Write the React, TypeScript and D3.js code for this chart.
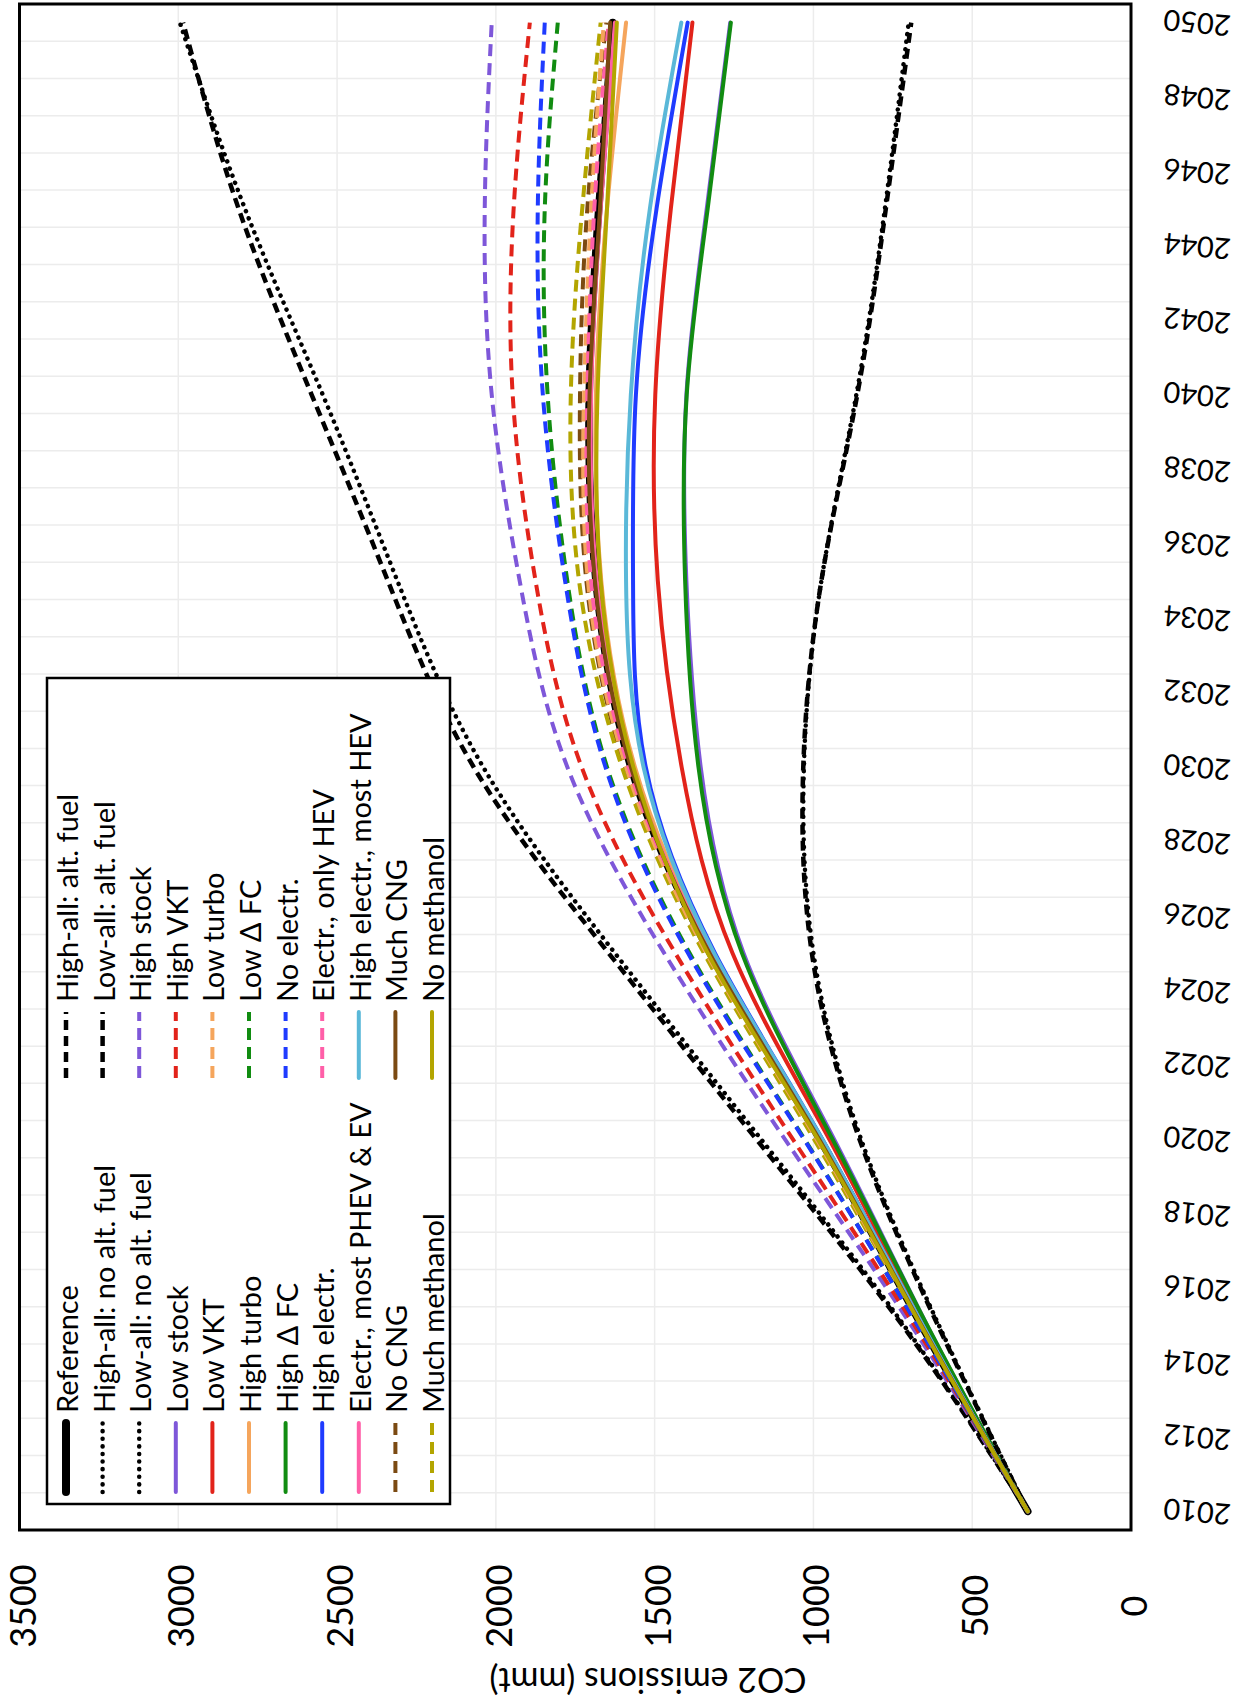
import React from 'react';
import * as d3 from 'd3';

// ---------- data ----------
const years = [2010, 2015, 2020, 2025, 2030, 2035, 2040, 2045, 2050];
const yearTicks = d3.range(2010, 2051, 2);
const valueTicks = [0, 500, 1000, 1500, 2000, 2500, 3000, 3500];

const reference = [325, 660, 980, 1325, 1575, 1685, 1706, 1676, 1632];
const highAllNoAlt = [325, 715, 1165, 1625, 2040, 2310, 2545, 2790, 2995];
const lowAllNoAlt = [325, 605, 850, 1000, 1030, 975, 865, 775, 700];
const lowStock = [325, 642, 935, 1220, 1355, 1400, 1400, 1336, 1262];
const lowVKT = [325, 648, 950, 1255, 1415, 1490, 1498, 1449, 1381];
const highTurbo = [325, 656, 975, 1318, 1562, 1668, 1685, 1650, 1590];
const highDFC = [325, 642, 940, 1225, 1362, 1404, 1399, 1333, 1260];
const highElectr = [325, 656, 972, 1310, 1528, 1568, 1559, 1494, 1396];
const electrPhevEv = [325, 658, 980, 1325, 1570, 1682, 1700, 1670, 1625];
const noCNG = [325, 663, 992, 1340, 1594, 1715, 1735, 1712, 1652];
const muchMethanol = [325, 665, 998, 1345, 1603, 1738, 1764, 1728, 1670];
const highAllAlt = [325, 720, 1180, 1645, 2070, 2340, 2580, 2810, 2985];
const lowAllAlt = [325, 608, 855, 1005, 1032, 975, 862, 772, 692];
const highStock = [325, 692, 1090, 1470, 1775, 1925, 2013, 2035, 2013];
const highVKT = [325, 682, 1065, 1435, 1730, 1875, 1947, 1944, 1893];
const lowTurbo = [325, 663, 990, 1337, 1590, 1710, 1722, 1700, 1660];
const lowDFC = [325, 672, 1028, 1390, 1650, 1775, 1837, 1846, 1805];
const noElectr = [325, 672, 1030, 1395, 1655, 1782, 1852, 1868, 1846];
const electrOnlyHev = [325, 661, 986, 1330, 1582, 1700, 1712, 1690, 1645];
const highElectrMostHev = [325, 656, 972, 1313, 1535, 1590, 1575, 1515, 1416];
const muchCNG = [325, 660, 982, 1327, 1575, 1688, 1705, 1672, 1640];
const noMethanol = [325, 662, 986, 1333, 1567, 1670, 1680, 1650, 1619];

const seriesNames = [
  'Reference', 'High-all: no alt. fuel', 'Low-all: no alt. fuel', 'Low stock', 'Low VKT',
  'High turbo', 'High \u0394 FC', 'High electr.', 'Electr., most PHEV & EV', 'No CNG',
  'Much methanol', 'High-all: alt. fuel', 'Low-all: alt. fuel', 'High stock', 'High VKT',
  'Low turbo', 'Low \u0394 FC', 'No electr.', 'Electr., only HEV', 'High electr., most HEV',
  'Much CNG', 'No methanol',
];
const seriesValues = [
  reference, highAllNoAlt, lowAllNoAlt, lowStock, lowVKT, highTurbo, highDFC, highElectr,
  electrPhevEv, noCNG, muchMethanol, highAllAlt, lowAllAlt, highStock, highVKT, lowTurbo,
  lowDFC, noElectr, electrOnlyHev, highElectrMostHev, muchCNG, noMethanol,
];

// ---------- styles ----------
const C = {
  black: '#000000', purple: '#7e57d9', red: '#e2231a', orange: '#f5a55c', green: '#118c11',
  blue: '#1f3bff', pink: '#ff5fa8', cyan: '#5ab8d8', brown: '#7b4a12', olive: '#b3a500',
};
type Sty = { color: string; dash: string | null; width: number; cap: 'round' | 'butt' };
const solid = (color: string, width = 4): Sty => ({ color, dash: null, width, cap: 'round' });
const dashed = (color: string, width = 4): Sty => ({ color, dash: '12 7', width, cap: 'butt' });
const dotted = (color: string, width = 4.5): Sty => ({ color, dash: '0.1 7.5', width, cap: 'round' });
const seriesStyles: Sty[] = [
  solid(C.black, 7.5), dotted(C.black), dotted(C.black), solid(C.purple), solid(C.red),
  solid(C.orange), solid(C.green), solid(C.blue), solid(C.pink), dashed(C.brown),
  dashed(C.olive), { ...dashed(C.black, 4.5), dash: '10 6' }, { ...dashed(C.black, 4.5), dash: '10 6' },
  dashed(C.purple), dashed(C.red), dashed(C.orange), dashed(C.green), dashed(C.blue),
  dashed(C.pink), solid(C.cyan), solid(C.brown), solid(C.olive),
];

const W = 1245;
const H = 1705;
const LEFT = 19.5, RIGHT = 1131, TOP = 4, BOTTOM = 1530;
const FONT = 'Lato, Carlito, Calibri, "Open Sans", sans-serif';

export default function App() {
  const x = d3.scaleLinear().domain([0, 3500]).range([RIGHT, LEFT]);
  const y = d3.scaleLinear().domain([2009.5, 2050.5]).range([BOTTOM, TOP]);
  const line = d3
    .line<[number, number]>()
    .x((d) => x(d[1]))
    .y((d) => y(d[0]))
    .curve(d3.curveNatural);

  const halfYears = d3.range(2010.5, 2050, 1);

  const legendRowX = (r: number) => 66 + r * 36.6;

  return (
    <svg
      width={W}
      height={H}
      style={{ position: 'absolute', left: 0, top: 0, background: '#fff' }}
      fontFamily={FONT}
    >
      <rect x={0} y={0} width={W} height={H} fill="#fff" />
      {/* gridlines */}
      <g stroke="#ececec" strokeWidth={1.5}>
        {valueTicks
          .filter((v) => v > 0 && v < 3500)
          .map((v) => (
            <line key={'gv' + v} x1={x(v)} x2={x(v)} y1={TOP} y2={BOTTOM} />
          ))}
        {halfYears.map((yr) => (
          <line key={'gy' + yr} x1={LEFT} x2={RIGHT} y1={y(yr)} y2={y(yr)} />
        ))}
      </g>

      {/* series */}
      <g fill="none" strokeLinejoin="round">
        {seriesValues.map((vals, i) => {
          const st = seriesStyles[i];
          const pts = years.map((yr, j) => [yr, vals[j]] as [number, number]);
          return (
            <path
              key={seriesNames[i]}
              d={line(pts) || ''}
              stroke={st.color}
              strokeWidth={st.width}
              strokeDasharray={st.dash || undefined}
              strokeLinecap={st.cap}
            />
          );
        })}
      </g>

      {/* plot border */}
      <rect
        x={LEFT}
        y={TOP}
        width={RIGHT - LEFT}
        height={BOTTOM - TOP}
        fill="none"
        stroke="#000"
        strokeWidth={3}
      />

      {/* legend */}
      <g>
        <rect x={47} y={678} width={403} height={826} fill="#fff" stroke="#000" strokeWidth={2.5} />
        {seriesNames.map((name, i) => {
          const col = i < 11 ? 0 : 1;
          const row = i % 11;
          const lx = legendRowX(row);
          const y1 = col === 0 ? 1492 : 1078;
          const y2 = col === 0 ? 1423 : 1012;
          const ty = col === 0 ? 1413 : 1002;
          const st = seriesStyles[i];
          return (
            <g key={'lg' + i}>
              <line
                x1={lx}
                x2={lx}
                y1={y1}
                y2={y2}
                stroke={st.color}
                strokeWidth={i === 0 ? 8 : st.width}
                strokeDasharray={st.dash || undefined}
                strokeLinecap={st.cap}
              />
              <text transform={`translate(${lx + 12},${ty}) rotate(-90)`} fontSize={29} fill="#000">
                {name}
              </text>
            </g>
          );
        })}
      </g>

      {/* value tick labels */}
      {valueTicks.map((v) => (
        <text
          key={'vt' + v}
          transform={`translate(${x(v) + 16},1606) rotate(-90)`}
          textAnchor="middle"
          fontSize={36}
          fill="#000"
        >
          {v}
        </text>
      ))}

      {/* year tick labels */}
      {yearTicks.map((yr) => (
        <text
          key={'yt' + yr}
          transform={`translate(1197,${y(yr)}) rotate(-174.5)`}
          textAnchor="middle"
          dy="0.35em"
          fontSize={29}
          fill="#000"
        >
          {yr}
        </text>
      ))}

      {/* axis title */}
      <text
        transform="translate(648,1680) rotate(180)"
        textAnchor="middle"
        dy="0.35em"
        fontSize={34}
        fill="#000"
      >
        CO2 emissions (mmt)
      </text>
    </svg>
  );
}
